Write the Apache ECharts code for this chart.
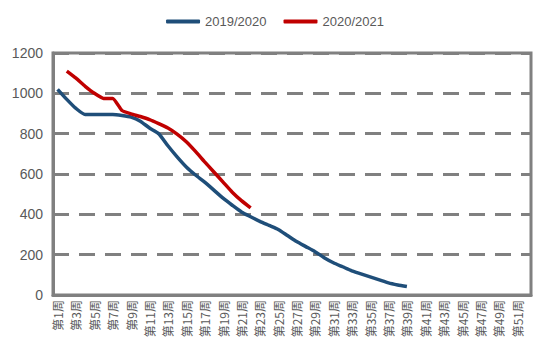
<!DOCTYPE html>
<html>
<head>
<meta charset="utf-8">
<script src="https://cdn.jsdelivr.net/npm/echarts@6/dist/echarts.min.js"></script>
<style>
  html, body { margin: 0; padding: 0; background: #fff; }
  #show_picture { width: 550px; height: 354px; }
</style>
</head>
<body>
<div id="show_picture"></div>
<script>
// weeks 1..52
let weeks = [];
for (let i = 1; i <= 52; i++) weeks.push('第' + i + '周');

let names = ['2019/2020', '2020/2021'];

let s2019 = [1020, 970, 925, 895, 895, 895, 895, 890, 882, 862,
             828, 800, 740, 685, 635, 595, 560, 520, 480, 445,
             412, 388, 365, 345, 325, 295, 265, 240, 215, 185,
             160, 140, 120, 105, 90, 75, 60, 50, 42];

let s2020 = [null, 1110, 1075, 1035, 1000, 975, 975, 915, 898, 885,
             870, 850, 828, 798, 760, 712, 660, 610, 560, 510,
             468, 432];

let yTicks = [0, 200, 400, 600, 800, 1000, 1200];

let myChart = echarts.init(document.getElementById('show_picture'), null, { renderer: 'svg' });

let gray = '#595959';
let frame = '#808080';
let option = {
    animation: false,
    legend: {
        top: 10,
        left: 'center',
        icon: 'roundRect',
        itemWidth: 34,
        itemHeight: 4,
        itemGap: 17,
        textStyle: { color: gray, fontSize: 13, fontFamily: 'Liberation Sans' },
        data: names
    },
    grid: {
        left: 53, right: 19, top: 53, bottom: 59,
        show: true,
        borderColor: frame,
        borderWidth: 3
    },
    xAxis: {
        type: 'category',
        data: weeks,
        boundaryGap: true,
        axisLine: { show: true, onZero: false, lineStyle: { color: frame, width: 3 } },
        axisTick: { show: false },
        axisLabel: {
            interval: 1,
            rotate: 90,
            color: gray,
            fontSize: 12,
            margin: 5,
            fontFamily: 'Noto Sans CJK SC'
        }
    },
    yAxis: {
        type: 'value',
        min: yTicks[0],
        max: yTicks[yTicks.length - 1],
        interval: 200,
        axisLine: { show: true, onZero: false, lineStyle: { color: frame, width: 3 } },
        axisTick: { show: false },
        axisLabel: {
            color: gray, fontSize: 14, margin: 10,
            fontFamily: 'Liberation Sans',
            formatter: v => String(v)
        },
        splitLine: {
            lineStyle: { color: frame, width: 3, type: [16, 10] }
        }
    },
    series: [
        {
            name: names[0],
            type: 'line',
            data: s2019,
            smooth: 0.2,
            showSymbol: false,
            color: '#1F4E79',
            lineStyle: { width: 3.5, color: '#1F4E79' }
        },
        {
            name: names[1],
            type: 'line',
            data: s2020,
            smooth: 0.15,
            showSymbol: false,
            color: '#C00000',
            lineStyle: { width: 3.5, color: '#C00000' }
        }
    ]
};

option && myChart.setOption(option);
</script>
</body>
</html>
